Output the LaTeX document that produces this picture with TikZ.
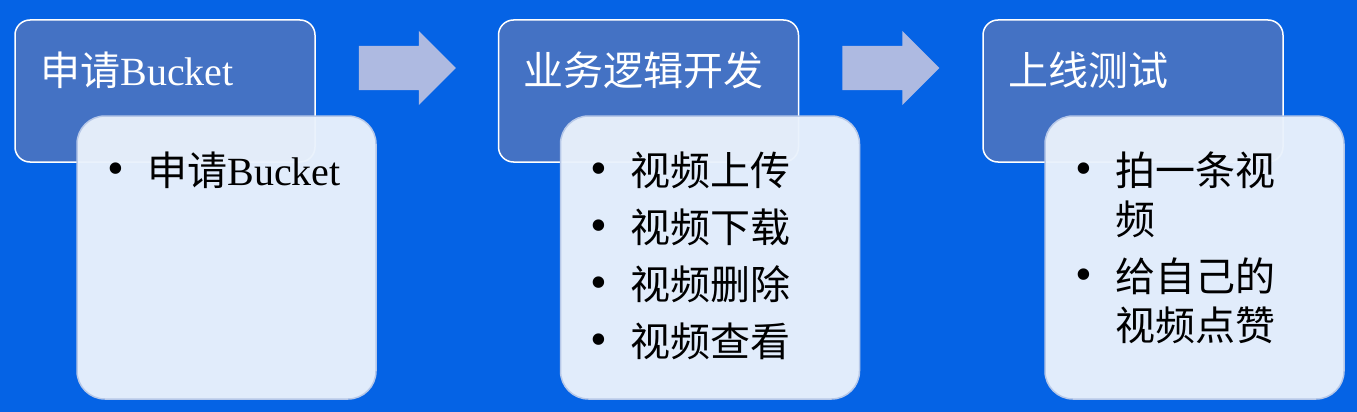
\documentclass[tikz,border=0pt]{standalone}
\usepackage{fontspec}
\setmainfont{Liberation Serif}
\newfontfamily\cjk{Noto Sans CJK SC}
\usetikzlibrary{shapes.arrows, positioning, calc}

\definecolor{bgblue}{HTML}{0563E5}
\definecolor{headblue}{HTML}{4472C4}
\definecolor{bodyfill}{HTML}{EAF2FC}
\definecolor{bodyline}{HTML}{B7C8E8}
\definecolor{arrowfill}{HTML}{AEBAE1}

% one bullet line of a step box
\newcommand{\bitem}[1]{\par\noindent\hangindent=40pt\hangafter=1\makebox[40pt][l]{\raisebox{1pt}{\fontsize{48}{49}\selectfont\textbullet}}{\cjk #1}}
\newcommand{\itemlist}[1]{\parbox[t]{250pt}{\fontsize{40}{49}\selectfont\setlength{\parskip}{8pt}#1}}

\begin{document}
\begin{tikzpicture}[
    x=1pt, y=1pt,
    head/.style={rectangle, rounded corners=15pt, draw=white, line width=1.5pt, fill=headblue, minimum width=300pt, minimum height=142pt},
    body/.style={rectangle, rounded corners=28pt, draw=bodyline, line width=1.5pt, fill=bodyfill, fill opacity=0.96, minimum width=299pt, minimum height=283pt},
    title/.style={anchor=base west, inner sep=0pt, text=white, font=\fontsize{40}{48}\selectfont},
    items/.style={anchor=base west, inner sep=0pt, text=black},
    flow/.style={single arrow, fill=arrowfill, draw=none, minimum height=97pt, single arrow head extend=15pt, inner sep=22pt, anchor=tail}
]
    \useasboundingbox (0,0) rectangle (1357,-412);
    \fill[bgblue] (0,0) rectangle (1357,-412);

    % step headers
    \node[head] (head1) at (165,-91) {};
    \node[head, right=182pt of head1] (head2) {};
    \node[head, right=183pt of head2] (head3) {};

    \node[title] (title1) at ($(head1.north west)+(26,-66)$) {{\cjk 申请}Bucket};
    \node[title] (title2) at ($(head2.north west)+(26,-66)$) {\cjk 业务逻辑开发};
    \node[title] (title3) at ($(head3.north west)+(26,-66)$) {\cjk 上线测试};

    % step contents
    \node[body, below right=96pt and 62pt of head1.north west] (body1) {};
    \node[body, below right=96pt and 62pt of head2.north west] (body2) {};
    \node[body, below right=96pt and 62pt of head3.north west] (body3) {};

    \node[items] (list1) at ($(body1.north west)+(31,-70)$) {\itemlist{\bitem{申请}Bucket}};
    \node[items] (list2) at ($(body2.north west)+(31,-70)$) {\itemlist{\bitem{视频上传}\bitem{视频下载}\bitem{视频删除}\bitem{视频查看}}};
    \node[items] (list3) at ($(body3.north west)+(31,-70)$) {\itemlist{\bitem{拍一条视\\频}\bitem{给自己的\\视频点赞}}};

    % arrows between the steps
    \node[flow] (step12) at ($(head1.east)+(43,23)$) {};
    \node[flow] (step23) at ($(head2.east)+(43,23)$) {};
\end{tikzpicture}
\end{document}
